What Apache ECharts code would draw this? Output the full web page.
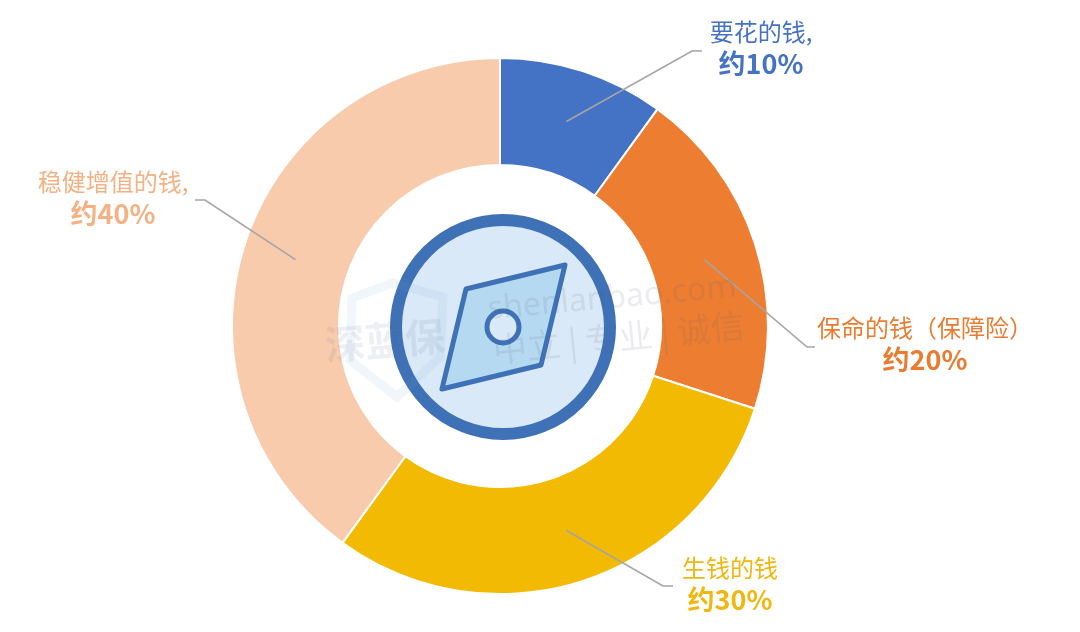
<!DOCTYPE html>
<html>
<head>
<meta charset="utf-8">
<style>
html, body { margin: 0; padding: 0; background: #fff; }
#ring { width: 1080px; height: 632px; }
</style>
<script src="https://cdn.jsdelivr.net/npm/echarts@6/dist/echarts.min.js"></script>
</head>
<body>
<div id="ring"></div>
<script>
var sliceNames = ['要花的钱,', '保命的钱（保障险）', '生钱的钱', '稳健增值的钱,'];
var sliceShares = ['约10%', '约20%', '约30%', '约40%'];
var sliceValues = [10, 20, 30, 40];

var sliceColors = ['#4472C4', '#ED7D31', '#F2BA02', '#F8CBAD'];
var textColors = ['#4472C4', '#E97C30', '#F0B70F', '#F4B183'];
var labelCenters = [[761, 48], [925, 344], [730, 584], [113, 198]];
var leaderBends = [
	[[692, 51], [702, 51]],
	[[807, 347], [815, 347]],
	[[663, 586], [673, 586]],
	[[205, 200], [195, 200]]
];

var chart = echarts.init(document.getElementById('ring'));

var ringData = sliceValues.map(function (v, i) {
	return { value: v, name: sliceNames[i], itemStyle: { color: sliceColors[i] } };
});

// 透明的一层饼图，只用来放标签和引导线，引导线从 215 半径处开始
var labelData = sliceValues.map(function (v, i) {
	return {
		value: v,
		name: sliceNames[i],
		label: {
			formatter: '{a|' + sliceNames[i] + '}\n{b|' + sliceShares[i] + '}',
			rich: {
				a: { fontSize: 24, lineHeight: 32, color: textColors[i], align: 'center', fontFamily: 'Noto Sans CJK SC' },
				b: { fontSize: 27, lineHeight: 32, fontWeight: 'bold', color: textColors[i], align: 'center', fontFamily: 'Noto Sans CJK SC' }
			}
		}
	};
});

var option = {
	backgroundColor: '#ffffff',
	animation: false,
	series: [{
		type: 'pie',
		center: [500, 326],
		radius: [161, 268],
		startAngle: 90,
		silent: true,
		itemStyle: { borderColor: '#ffffff', borderWidth: 2 },
		label: { show: false },
		labelLine: { show: false },
		data: ringData
	}, {
		type: 'pie',
		z: 3,
		center: [500, 326],
		radius: [0, 215],
		startAngle: 90,
		avoidLabelOverlap: false,
		silent: true,
		itemStyle: { color: 'transparent' },
		label: { show: true, position: 'outside' },
		labelLine: { show: true, smooth: false, lineStyle: { color: '#A5A5A5', width: 1.6 } },
		labelLayout: function (params) {
			var i = params.dataIndex;
			return {
				x: labelCenters[i][0],
				y: labelCenters[i][1],
				align: 'center',
				verticalAlign: 'middle',
				labelLinePoints: [params.labelLinePoints[0], leaderBends[i][0], leaderBends[i][1]]
			};
		},
		data: labelData
	}],
	graphic: [
		// 指南针
		{ type: 'circle', z: 3, shape: { cx: 503, cy: 327, r: 107 }, style: { fill: '#DAE9F7', stroke: '#3E71B6', lineWidth: 12 } },
		{ type: 'polygon', z: 4, shape: { points: [[565, 265], [466, 289], [442, 389], [541, 365]] },
			style: { fill: '#B4D9F1', stroke: '#3E71B6', lineWidth: 5, lineJoin: 'round' } },
		{ type: 'circle', z: 5, shape: { cx: 503, cy: 327, r: 16 }, style: { fill: '#DAE9F7', stroke: '#3E71B6', lineWidth: 5 } },
		// 水印
		{ type: 'polygon', z: 20, shape: { points: [[352, 298], [393, 283], [443, 297], [440, 357], [397, 397], [350, 360]] },
			style: { fill: 'none', stroke: 'rgba(120,165,220,0.10)', lineWidth: 9 } },
		{ type: 'text', z: 20, x: 325, y: 345, rotation: 0.08,
			style: { text: '深蓝保', fill: 'rgba(90,100,150,0.10)', font: 'bold 40px "Noto Sans CJK SC"', verticalAlign: 'middle' } },
		{ type: 'text', z: 20, x: 488, y: 310, rotation: 0.09,
			style: { text: 'shenlanbao.com', fill: 'rgba(90,100,120,0.12)', font: '32px "Noto Sans"', verticalAlign: 'middle' } },
		{ type: 'text', z: 20, x: 493, y: 350, rotation: 0.1,
			style: { text: '中立 | 专业 | 诚信', fill: 'rgba(90,100,120,0.12)', font: '34px "Noto Sans CJK SC"', verticalAlign: 'middle' } }
	]
};

chart.setOption(option);
</script>
</body>
</html>
